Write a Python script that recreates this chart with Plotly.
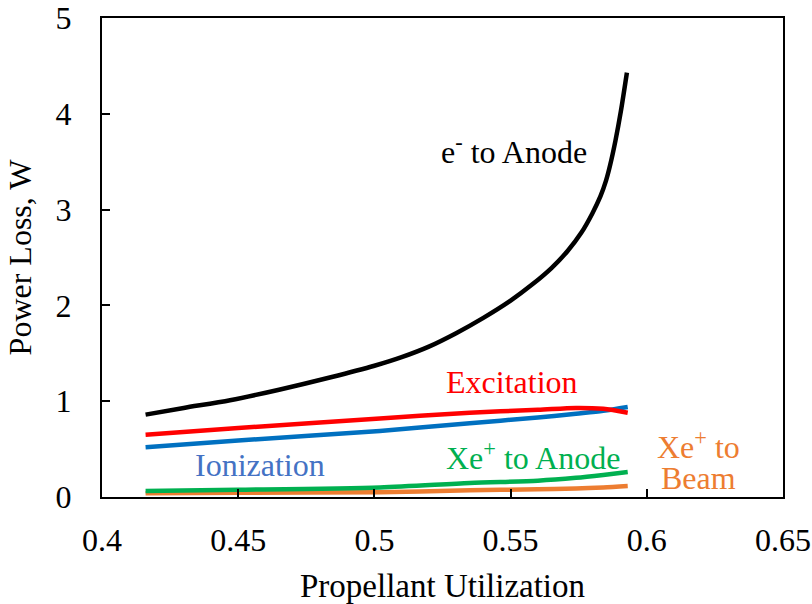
import plotly.graph_objects as go

# Propellant utilization (x) and power-loss series (W)
x_e = [0.416, 0.430, 0.447, 0.465, 0.484, 0.500, 0.510, 0.520, 0.530, 0.540, 0.550, 0.558,
       0.565, 0.571, 0.576, 0.580, 0.583, 0.585, 0.5865, 0.5885, 0.5905, 0.5927]
y_e = [0.86, 0.93, 1.01, 1.12, 1.25, 1.37, 1.46, 1.57, 1.71, 1.87, 2.05, 2.22,
       2.39, 2.57, 2.76, 2.96, 3.14, 3.30, 3.46, 3.72, 4.03, 4.43]

x_s = [0.416, 0.450, 0.502, 0.535, 0.560, 0.574, 0.584, 0.593]
y_exc = [0.65, 0.72, 0.82, 0.88, 0.91, 0.93, 0.92, 0.88]
y_ion = [0.52, 0.59, 0.69, 0.77, 0.83, 0.87, 0.90, 0.94]
y_xa = [0.063, 0.075, 0.10, 0.146, 0.17, 0.20, 0.23, 0.26]
y_xb = [0.04, 0.045, 0.05, 0.07, 0.08, 0.09, 0.10, 0.115]

x_ticks = [0.4, 0.45, 0.5, 0.55, 0.6, 0.65]
x_tick_text = ["0.4", "0.45", "0.5", "0.55", "0.6", "0.65"]
y_ticks = [0, 1, 2, 3, 4, 5]

FONT = "Liberation Serif, Times New Roman, serif"
FS = 32

fig = go.Figure()
series = [
    (x_s, y_xb, "#ED7D31"),
    (x_s, y_xa, "#00B050"),
    (x_s, y_ion, "#0070C0"),
    (x_s, y_exc, "#FF0000"),
    (x_e, y_e, "#000000"),
]
for xs, ys, c in series:
    fig.add_trace(go.Scatter(x=xs, y=ys, mode="lines",
                             line=dict(color=c, width=4.5, shape="spline", smoothing=0.8),
                             showlegend=False, hoverinfo="skip"))

annots = [
    (0.5513, 3.62, "e<sup>-</sup> to Anode", "#000000"),
    (0.5505, 1.20, "Excitation", "#FF0000"),
    (0.4580, 0.334, "Ionization", "#4472C4"),
    (0.5582, 0.43, "Xe<sup>+</sup> to Anode", "#00B050"),
    (0.6188, 0.54, "Xe<sup>+</sup> to", "#ED7D31"),
    (0.6188, 0.20, "Beam", "#ED7D31"),
]
for ax_, ay_, t, c in annots:
    fig.add_annotation(x=ax_, y=ay_, text=t, showarrow=False,
                       font=dict(family=FONT, size=FS, color=c))

fig.update_layout(
    width=812, height=604,
    margin=dict(l=102, r=29, t=18, b=107),
    paper_bgcolor="white", plot_bgcolor="white",
    font=dict(family=FONT, size=FS, color="black"),
    xaxis=dict(range=[0.4, 0.65], tickvals=x_ticks, ticktext=x_tick_text,
               ticks="inside", ticklen=8, tickwidth=2, tickcolor="black",
               showline=True, linecolor="black", linewidth=2, mirror=True,
               showgrid=False, zeroline=False, ticklabelstandoff=14, automargin=False,
               ticklabeloverflow="allow",
               tickfont=dict(family=FONT, size=FS),
               title=dict(text="Propellant Utilization", standoff=22,
                          font=dict(family=FONT, size=33))),
    yaxis=dict(range=[0, 5], tickvals=y_ticks,
               ticks="inside", ticklen=8, tickwidth=2, tickcolor="black",
               showline=True, linecolor="black", linewidth=2, mirror=True,
               showgrid=False, zeroline=False, ticklabelstandoff=22, automargin=False,
               ticklabeloverflow="allow",
               tickfont=dict(family=FONT, size=FS),
               title=dict(text="Power Loss, W", standoff=14,
                          font=dict(family=FONT, size=FS))),
)

fig.write_html("out.html", config={"displayModeBar": False},
               post_script="document.body.style.margin='0';document.body.style.overflow='hidden';")
